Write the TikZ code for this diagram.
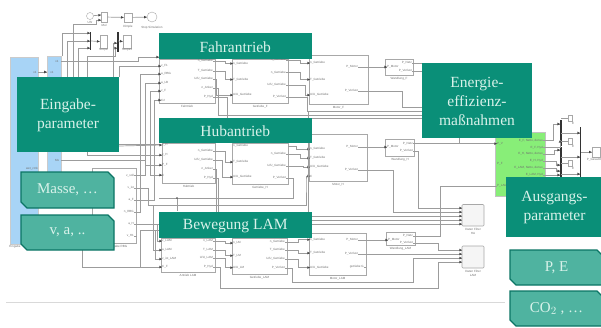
\documentclass[tikz,border=0pt]{standalone}
\usepackage{fontspec}
\setmainfont{Liberation Serif}
\newfontfamily\lblfont{Liberation Sans}
\usetikzlibrary{arrows.meta,calc,decorations.markings}
\definecolor{tealdark}{HTML}{0A8F78}
\definecolor{teallight}{HTML}{4FB3A0}
\definecolor{tealedge}{HTML}{0B7565}
\definecolor{headtext}{HTML}{D8F2EA}
\definecolor{wirecol}{HTML}{9C9C9C}
\definecolor{tipcol}{HTML}{444444}
\definecolor{blockedge}{HTML}{A8A8A8}
\definecolor{blueblock}{HTML}{A8D4F6}
\definecolor{greenblock}{HTML}{88EE78}
\definecolor{lblcol}{HTML}{707070}
\tikzset{
  wire/.style={draw=wirecol,line width=0.7pt},
  sig/.style={draw=wirecol,line width=0.7pt,postaction={decorate},
    decoration={markings,mark=at position 1 with {\fill[tipcol] (-2.6pt,-1.3pt) -- (0pt,0pt) -- (-2.6pt,1.3pt) -- cycle;}}},
  busbar/.style={draw=black!80,line width=1.5pt},
  simblock/.style={draw=blockedge,fill=white,line width=0.8pt,inner sep=0pt},
  filterblock/.style={draw=blockedge,fill=black!4,line width=0.6pt,inner sep=0pt,rounded corners=1pt},
  portlbl/.style={font=\lblfont\fontsize{3}{3.4}\selectfont,text=lblcol,inner sep=0pt},
  heading/.style={fill=tealdark,inner sep=0pt,align=center,text=headtext,font=\fontsize{15.5}{19}\selectfont},
  subtext/.style={inner sep=0pt,text=headtext,font=\fontsize{15}{18}\selectfont},
}
% name x1 y1 x2 y2 style
\newcommand{\rectnode}[6]{%
  \pgfmathsetmacro{\rw}{(#4)-(#2)}\pgfmathsetmacro{\rh}{(#5)-(#3)}%
  \node[#6,minimum width=\rw pt,minimum height=\rh pt] (#1) at ({(#2+#4)/2},{(#3+#5)/2}) {};}
% simulink block: name x1 y1 x2 y2 caption
\newcommand{\simb}[6]{\rectnode{#1}{#2}{#3}{#4}{#5}{simblock}%
  \node[portlbl,anchor=north,yshift=-1.4pt] (#1cap) at (#1.south) {#6};}
% filter block
\newcommand{\filtb}[6]{\rectnode{#1}{#2}{#3}{#4}{#5}{filterblock}%
  \node[portlbl,anchor=north,yshift=-1.4pt] (#1cap) at (#1.south) {#6};}
% teal heading: name x1 y1 x2 y2 text
\newcommand{\headbox}[6]{%
  \fill[tealdark] (#2,#3) rectangle (#4,#5);
  \node[heading,fill=none,yshift=-1pt] (#1) at ({(#2+#4)/2},{(#3+#5)/2}) {#6};}
% snipped light box: name x1 y1 x2 y2 text
\newcommand{\snipbox}[6]{%
  \draw[fill=teallight,draw=tealedge,line width=1.2pt]
    (#2,#3) -- ({#4-6},#3) -- (#4,{#3+6}) -- (#4,#5) -- ({#2+6},#5) -- (#2,{#5-6}) -- cycle;
  \node[subtext] (#1) at ({(#2+#4)/2},{(#3+#5)/2}) {#6};}
% named port with label: name x y anchor text
\newcommand{\pt}[5]{\coordinate (#1) at (#2,#3);\node[portlbl,anchor=#4] (#1t) at (#2,#3) {#5};}
\begin{document}
\begin{tikzpicture}[x=1pt,y=-1pt]
\useasboundingbox (0,0) rectangle (601,327);
\fill[white] (0,0) rectangle (601,327);
% hairline
\coordinate (ruleL) at (6,302); \coordinate (ruleR) at (505,302);
\draw[black!15,line width=0.6pt] (ruleL) -- (ruleR);

% left blue blocks
\rectnode{blueA}{10}{57}{38}{244}{draw=blockedge!60,fill=blueblock,inner sep=0pt,line width=0.4pt}
\rectnode{blueB}{47}{56}{61}{205}{draw=blockedge!60,fill=blueblock,inner sep=0pt,line width=0.4pt}
\node[portlbl] (blueAcap) at (15,247) {Eingabe};
\node[portlbl] (blueBt) at (32,169) {wet\_ctrlx};
\node[portlbl] (blueC) at (57,160) {Mx};
\node[portlbl] (blueD) at (57,61) {v1};
\node[portlbl] (blueE) at (35,72) {x1};
\node[portlbl] (blueF) at (52,72) {x1};

% top row
\node[draw=blockedge,circle,minimum size=7pt,inner sep=0pt,fill=white] (clock) at (90,16) {};
\node[portlbl] (clockt) at (90,22) {Uhr};
\rectnode{mulb}{101}{12}{107}{22}{simblock}
\node[portlbl] (mult) at (104,25) {Mul};
\rectnode{dispb}{124}{13}{132}{22}{simblock}
\node[portlbl] (dispt) at (128,26.5) {Dimple};
\node[draw=blockedge,circle,minimum size=10pt,inner sep=0pt,fill=white] (stopb) at (152,17) {};
\node[portlbl] (stopt) at (152,27.5) {Stop Simulation};
\rectnode{scopeA}{100}{35}{107}{48}{simblock}
\node[portlbl] (scopeAt) at (103.5,50) {Scope};
\rectnode{scopeB}{123}{35}{131}{48}{simblock}
\node[portlbl] (scopeBt) at (127,50) {Scope1};
\coordinate (muxAa) at (90.5,32); \coordinate (muxAb) at (90.5,50);
\coordinate (muxBa) at (118,32); \coordinate (muxBb) at (118,52);
\draw[busbar] (muxAa) -- (muxAb);
\draw[busbar] (muxBa) -- (muxBb);
\draw[sig] (clock) -- (101,15);
\draw[sig] (mulb) -- (dispb);
\draw[sig] (dispb) -- (stopb);
\draw[sig] (73,77) |- (96,24) |- (101,20);
\draw[sig] (62,56) |- (90,33);
\draw[sig] (67,77) |- (90,41);
\draw[sig] (78,77) |- (90,48);
\draw[sig] (91,41) -- (scopeA.west);
\draw[sig] (118,41) -- (scopeB.west);
\draw[sig] (113,77) |- (117,43);
\draw[sig] (87,77) |- (115,56) |- (117,48);
\draw[sig] (blueA.east |- 0,72) -- (blueB.west |- 0,72);

% simulink blocks
\simb{rbg}{92}{168}{136}{243}{\hspace*{8pt}Eingabe RBG}
\simb{fa}{159}{59}{215}{103}{Fahrtrieb}
\simb{fb}{232}{59}{288.5}{103}{Getriebe\_F}
\simb{fc}{309}{55}{368}{104}{Motor\_F}
\simb{fd}{385}{59}{413}{75}{Wandlung\_F}
\simb{ha}{162}{143}{215}{183}{Hubtrieb}
\simb{hb}{232}{143}{288}{184}{Getriebe\_H}
\simb{hc}{309}{134}{367}{181}{Motor\_H}
\simb{hd}{385.5}{139}{414.7}{156}{Wandlung\_H}
\simb{la}{161}{238}{215}{272}{Antrieb LAM}
\simb{lb}{232}{238}{287}{274}{Getriebe\_LAM}
\simb{lc}{309}{233}{366}{275.5}{Motor\_LAM}
\simb{ld}{386}{232}{415}{245}{Wandlung\_LAM}
\filtb{ga}{462}{204.5}{484}{226}{Daten Filter}
\filtb{gb}{462}{246}{484}{268}{Daten Filter}
\node[portlbl] (gacap2) at (473,233) {HA};
\node[portlbl] (gbcap2) at (473,275) {LAM};

% green block
\rectnode{green}{495}{132}{545}{196}{draw=blockedge!70,fill=greenblock,inner sep=0pt,line width=0.4pt}

% ports Eingabe RBG
\pt{ro1}{134}{175.7}{east}{v\_soll}
\pt{ro2}{134}{188}{east}{v\_ist}
\pt{ro3}{134}{200}{east}{a\_F}
\pt{ro4}{134}{212}{east}{n\_RBG}
\pt{ro5}{134}{224}{east}{a\_H}
\pt{ro6}{134}{236}{east}{v\_H1}
% ports Fahrantrieb
\pt{fai1}{161}{66}{west}{v\_F1}
\pt{fai2}{161}{74}{west}{a\_RBG}
\pt{fai3}{161}{83}{west}{a\_LB}
\pt{fai4}{161}{91}{west}{v\_F}
\pt{fai5}{161}{100}{west}{C2}
\pt{fao1}{213}{61}{east}{n\_Getriebe}
\pt{fao2}{213}{71}{east}{T\_Getriebe}
\pt{fao3}{213}{79}{east}{U/U\_Getriebe}
\pt{fao4}{213}{88}{east}{n\_Anker}
\pt{fao5}{213}{97}{east}{P\_Hyd}
\pt{fbi1}{233}{63.5}{west}{n\_Getriebe}
\pt{fbi2}{233}{79.5}{west}{T\_Getriebe}
\pt{fbi3}{233}{95}{west}{U/U\_Getriebe}
\pt{fbo1}{286}{60}{east}{n\_Getriebe}
\pt{fbo2}{286}{72.5}{east}{n\_Getriebe}
\pt{fbo3}{286}{85}{east}{U/U\_Getriebe}
\pt{fbo4}{286}{97}{east}{P\_Verlust}
\pt{fci1}{310}{63}{west}{n\_Getriebe}
\pt{fci2}{310}{79.5}{west}{T\_Getriebe}
\pt{fci3}{310}{95}{west}{U/U\_Getriebe}
\pt{fco1}{358}{67}{east}{P\_Motor}
\pt{fco2}{358}{91}{east}{P\_Verlust}
\pt{fdi}{387}{67}{west}{P\_Motor}
\pt{fdo1}{412}{63}{east}{P\_Netz}
\pt{fdo2}{412}{71}{east}{P\_Verlust}
% ports Hubantrieb
\pt{hai1}{162}{145}{west}{v\_H}
\pt{hai2}{162}{155}{west}{v\_H}
\pt{hai3}{162}{165}{west}{P\_F}
\pt{hai4}{162}{175}{west}{C}
\pt{hao1}{213}{151}{east}{n\_Getriebe}
\pt{hao2}{213}{160}{east}{U/U\_Getriebe}
\pt{hao3}{213}{169}{east}{n\_Anker}
\pt{hao4}{213}{178}{east}{P\_Hyd}
\pt{hbi1}{233}{146}{west}{n\_Getriebe}
\pt{hbi2}{233}{162}{west}{T\_Getriebe}
\pt{hbi3}{233}{177}{west}{U/U\_Getriebe}
\pt{hbo1}{286}{154}{east}{n\_Getriebe}
\pt{hbo2}{286}{166}{east}{U/U\_Getriebe}
\pt{hbo3}{286}{178}{east}{P\_Verlust}
\pt{hci1}{310}{149}{west}{n\_Getriebe}
\pt{hci2}{310}{158}{west}{T\_Getriebe}
\pt{hci3}{310}{167}{west}{U/U\_Getriebe}
\pt{hci4}{310}{176}{west}{C}
\pt{hco1}{358}{147}{east}{P\_Motor}
\pt{hco2}{358}{170}{east}{P\_Verlust}
\pt{hdi}{387}{147}{west}{P\_Motor}
\pt{hdo1}{413}{143.7}{east}{P\_Netz}
\pt{hdo2}{413}{151}{east}{P\_Verlust}
% ports LAM
\pt{lai1}{162}{241}{west}{v\_LAM}
\pt{lai2}{162}{250}{west}{a\_LAM}
\pt{lai3}{162}{259}{west}{v\_ist\_LAM}
\pt{lai4}{162}{267}{west}{C\_F}
\pt{lao1}{213}{241}{east}{n\_LAM}
\pt{lao2}{213}{250}{east}{T\_LAM}
\pt{lao3}{213}{258}{east}{U/U\_LAM}
\pt{lao4}{213}{267}{east}{P\_Hyd}
\pt{lbi1}{233}{243}{west}{n\_LM}
\pt{lbi2}{233}{255.7}{west}{T\_LM}
\pt{lbi3}{233}{267.7}{west}{U/U\_LM}
\pt{lbo1}{285}{242}{east}{n\_Getriebe}
\pt{lbo2}{285}{250}{east}{T\_Getriebe}
\pt{lbo3}{285}{259}{east}{U/U\_Getriebe}
\pt{lbo4}{285}{268}{east}{P\_Verlust}
\pt{lci1}{310}{239.7}{west}{n\_Getriebe}
\pt{lci2}{310}{253}{west}{T\_Getriebe}
\pt{lci3}{310}{267.6}{west}{U/U\_Getriebe}
\pt{lco1}{358}{240}{east}{P\_Motor}
\pt{lco2}{358}{254}{east}{P\_Verlust}
\pt{lco3}{364}{267}{east}{getriebe G}
\pt{ldi}{388}{240}{west}{P\_Motor}
\pt{ldo1}{413}{236}{east}{P\_Netz}
\pt{ldo2}{413}{243}{east}{P\_Verlust}
% ports green block
\pt{gi1}{497}{143.7}{west}{P\_V}
\pt{gi2}{497}{164}{west}{P\_F}
\pt{gi3}{497}{186}{west}{P\_LAM}
\pt{go1}{543}{140.7}{east}{E\_F, Netto, denso}
\pt{go2}{543}{147.7}{east}{E\_F, Hyd}
\pt{go3}{543}{154}{east}{E\_H, Netto, denso}
\pt{go4}{543}{161}{east}{E\_H, Hyd}
\pt{go5}{543}{168}{east}{E\_LAM, Netto, denso}
\pt{go6}{543}{175}{east}{E\_LAM, Hyd}
% ports filters
\foreach \i/\y in {1/208,2/212,3/216,4/220,5/224}{\coordinate (gaP\i) at (462,\y);}
\foreach \i/\y in {1/250,2/254,3/258,4/262}{\coordinate (gbP\i) at (462,\y);}

% wires: into Fahrantrieb
\draw[sig] (blueB.east |- 0,61) -- (138,61) -- (138,57) -- (159,57);
\draw[sig] (119,77) |- (fai1);
\draw[sig] (ro4) -| (140,74) -- (fai2);
\draw[sig] (ro1) -| (145,83) -- (fai3);
\draw[sig] (150,91) -- (fai4);
\draw[sig] (ro3) -| (154,100) -- (fai5);
% into Hubantrieb
\draw[wire] (119,144) -- (160,144);
\draw[sig] (119,146) -- (hai1);
\draw[sig] (87,152) |- (hai2);
\draw[wire] (blueB.east |- 0,160) -- (145,160);
\draw[sig] (145,165) -- (hai3);
\draw[sig] (150,91) |- (hai4);
% into LAM
\draw[wire] (ro2) -| (148,205) -- (154,205);
\draw[wire] (ro5) -- (159,224);
\draw[wire] (ro6) -- (137,236);
\draw[sig] (157,224) |- (lai1);
\draw[sig] (153,205) |- (lai2);
\draw[sig] (155,230) |- (lai3);
\draw[wire] (140,230) -- (159,230);
\draw[wire] (140,230) -- (140,268);
\draw[sig] (82,250) |- (lai4);

% Fahr wires
\draw[sig] (fao1) -- (225,61) |- (fbi1);
\draw[sig] (fao2) -- (225,71) |- (fbi2);
\draw[sig] (fao3) -- (216,79) |- (fbi3);
\draw[wire] (fao4) -- (218,88) |- (422,115);
\draw[wire] (fao5) -- (227,97) |- (422,118);
\draw[sig] (fbo1) -- (300,60) |- (fci1);
\draw[sig] (fbo2) -- (300,72.5) |- (fci2);
\draw[sig] (fbo3) -- (305,85) |- (fci3);
\draw[wire] (fbo4) -- (307,97) |- (422,111);
\draw[sig] (fco1) -- (fdi);
\draw[wire] (fco2) -- (402,91) |- (422,107);
\draw[wire] (fdo1) -- (422,63);
\draw[wire] (fdo2) -- (422,71);
% Hub wires
\draw[sig] (hao1) -- (225,151) |- (hbi2);
\draw[sig] (hao2) -- (222,160) |- (hbi3);
\draw[wire] (hao3) -- (216,169) |- (461,224);
\draw[wire] (hao4) -- (218,178) |- (461,220);
\draw[sig] (288,146) -- (296,146) |- (hci1);
\draw[sig] (hbo1) -- (300,154) |- (hci2);
\draw[sig] (hbo2) -- (303,166) |- (hci3);
\draw[wire] (hbo3) -- (293,178) |- (159,198);
\draw[wire] (177,198) -- (177,211);
\fill[tipcol] (177,198) circle (0.9pt);
\draw[sig] (154,205) -| (306,180) |- (hci4);
\draw[wire] (308,111) |- (461,216);
\draw[sig] (hco1) -- (hdi);
\draw[sig] (hdo1) -- (gi1);
\draw[wire] (459,138) -- (459,143.7);
\draw[wire] (hco2) -- (393,170) |- (gaP2);
\draw[wire] (hdo2) -- (418,151) |- (gaP1);
% filter A ports
\foreach \i in {1,2,3,4,5}{\draw[sig] (458,0 |- gaP\i) -- (gaP\i);}
% LAM wires
\draw[sig] (lao1) -- (225,241) |- (lbi1);
\draw[sig] (lao2) -- (225,250) |- (lbi2);
\draw[sig] (lao3) -- (225,258) |- (lbi3);
\draw[wire] (lao4) -- (220,267) |- (438,288) |- (gbP4);
\draw[sig] (lbo1) -- (298,242) |- (lci1);
\draw[sig] (lbo2) -- (298,250) |- (lci2);
\draw[sig] (lbo3) -- (298,259) |- (lci3);
\draw[wire] (lbo4) -- (292,268) |- (413,282) |- (gbP3);
\draw[sig] (lco1) -- (ldi);
\draw[wire] (lco2) -- (gbP2);
\draw[wire] (lco3) -- (366,267);
\draw[wire] (ldo1) -- (440,236) |- (gi3);
\draw[wire] (ldo2) -- (438,243) |- (gbP1);
\foreach \i in {1,2,3,4}{\draw[sig] (458,0 |- gbP\i) -- (gbP\i);}

% right side
\coordinate (barA) at (561,120); \coordinate (barAb) at (561,146);
\coordinate (barB) at (561,147); \coordinate (barBb) at (561,170);
\coordinate (barC) at (561,168); \coordinate (barCb) at (561,180);
\coordinate (barD) at (580.7,127); \coordinate (barDb) at (580.7,177);
\draw[busbar] (barA) -- (barAb);
\draw[busbar] (barB) -- (barBb);
\draw[busbar] (barC) -- (barCb);
\draw[busbar] (barD) -- (barDb);
\rectnode{scopeC}{592}{147}{600}{157}{simblock}
\node[portlbl] (scopeCt) at (594,160) {P\_Gesamt};
\foreach \n/\x/\y in {dA/570/118,dB/570/141,dC/570/163}{
  \rectnode{\n}{\x-2}{\y-3}{\x+2.5}{\y+3}{draw=blockedge,fill=white,inner sep=0pt,line width=0.4pt}
  \node[portlbl] at (\x+3,\y+5) {E};
}
\draw[sig] (go1) -- (553,140.7) |- (560,124);
\draw[sig] (go2) -- (560,147.7) -- (560,140);
\draw[sig] (go3) -- (554,154) |- (560,150);
\draw[sig] (go4) -- (556,161) |- (560,165);
\draw[sig] (go5) -- (556,168) |- (560,171);
\draw[sig] (go6) -- (560,175);
\draw[wire] (561,118) -- (568,118);
\draw[wire] (561,141) -- (568,141);
\draw[wire] (561,163) -- (568,163);
\draw[sig] (561,133) -- (580,133);
\draw[sig] (561,157) -- (580,157);
\draw[sig] (561,174) -- (580,174);
\draw[sig] (581,152) -- (scopeC.west);

% teal overlay boxes
\headbox{eingabe}{17}{77}{119}{152}{Eingabe-\\parameter}
\headbox{fahr}{159}{33}{311.5}{59}{Fahrantrieb}
\headbox{hub}{159}{117.5}{311.5}{143}{Hubantrieb}
\headbox{lam}{159}{211.7}{311.5}{237.7}{Bewegung LAM}
\headbox{energie}{422}{63}{532}{138}{Energie-\\effizienz-\\maßnahmen}
\headbox{ausgang}{506}{177}{603}{237}{Ausgangs-\\parameter}
\snipbox{masse}{21}{172}{114}{208}{Masse, \ldots}
\snipbox{vaa}{21}{215}{114}{250}{v, a, ..}
\snipbox{pe}{510}{250}{603}{285}{P, E}
\snipbox{co}{510}{291}{603}{326}{CO$_2$ , \ldots}
\end{tikzpicture}
\end{document}
